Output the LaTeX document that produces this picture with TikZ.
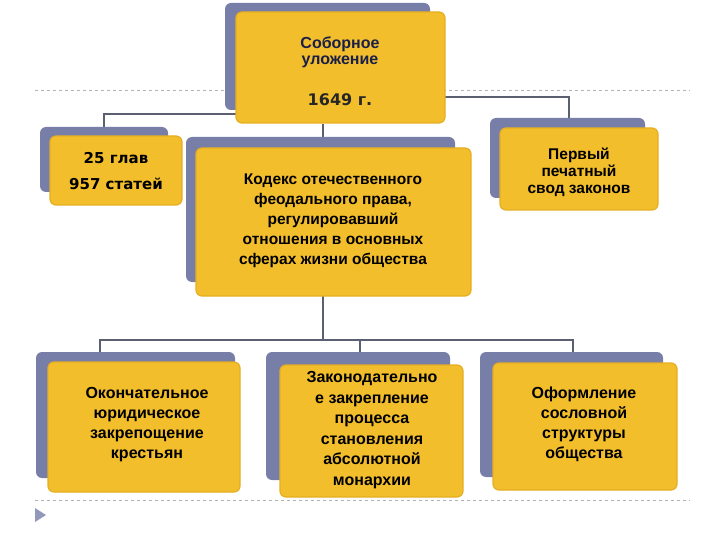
\documentclass[tikz,border=0pt]{standalone}
\usepackage{fontspec}
\setmainfont{Liberation Sans}
\newfontfamily\numfont{DejaVu Sans}
\definecolor{ylw}{HTML}{F2BE2C}
\definecolor{ylwb}{HTML}{E6AE22}
\definecolor{shd}{HTML}{777FA8}
\definecolor{lnc}{HTML}{5A6072}
\definecolor{navy}{HTML}{1A1F4A}
\begin{document}
\begin{tikzpicture}[x=1pt,y=-1pt,
  card/.style={fill=ylw,draw=ylwb,line width=1.2pt,rounded corners=6pt},
  shade/.style={fill=shd,rounded corners=6pt},
  txt/.style={align=center,font=\bfseries\fontsize{16}{18}\selectfont,text=black},
  conn/.style={draw=lnc,line width=1.3pt}]
\useasboundingbox (0,0) rectangle (720,540);
\draw[gray!60,dashed] (35,90) -- (690,90);
\draw[gray!60,dashed] (35,500) -- (690,500);
\fill[shd!80] (35,508) -- (46,515) -- (35,522) -- cycle;
% connectors
\coordinate (j1) at (104,114);
\coordinate (j2) at (569,97);
\coordinate (j3) at (323,340);
\draw[conn] (104,127) -- (104,114) -- (236,114);
\draw[conn] (445,97) -- (569,97) -- (569,118);
\draw[conn] (323,124) -- (323,137);
\draw[conn] (323,296) -- (323,340);
\draw[conn] (100,352) -- (100,340) -- (573,340) -- (573,352);
\draw[conn] (360,340) -- (360,352);
% boxes
\fill[shade] (225,3) rectangle (430,110);
\draw[card] (236,12) rectangle (445,123);
\node[txt,text=navy] (t) at (340,52) {Соборное\\[-2pt]уложение};
\node[font=\numfont\bfseries\fontsize{16}{18}\selectfont,text=black!85] (ty) at (340,100) {1649 г.};
\fill[shade] (40,127) rectangle (168,192);
\draw[card] (50,136) rectangle (182,205);
\node[font=\numfont\bfseries\fontsize{15}{26}\selectfont,align=center] (a) at (116,171) {25 глав\\957 статей};
\fill[shade] (186,137) rectangle (455,282);
\draw[card] (196,148) rectangle (471,296);
\node[txt,font=\bfseries\fontsize{15.5}{20}\selectfont] (b) at (333,221) {Кодекс отечественного\\феодального права,\\регулировавший\\отношения в основных\\сферах жизни общества};
\fill[shade] (490,118) rectangle (645,198);
\draw[card] (500,128) rectangle (658,210);
\node[txt,font=\bfseries\fontsize{15.5}{17}\selectfont] (c) at (579,172) {Первый\\печатный\\свод законов};
\fill[shade] (36,352) rectangle (235,478);
\draw[card] (48,362) rectangle (240,492);
\node[txt,font=\bfseries\fontsize{16}{20}\selectfont] (d) at (147,425) {Окончательное\\юридическое\\закрепощение\\крестьян};
\fill[shade] (266,352) rectangle (450,480);
\draw[card] (280,365) rectangle (463,497);
\node[txt,font=\bfseries\fontsize{16}{20.5}\selectfont] (e) at (372,430) {Законодательно\\е закрепление\\процесса\\становления\\абсолютной\\монархии};
\fill[shade] (480,352) rectangle (663,477);
\draw[card] (493,363) rectangle (677,490);
\node[txt,font=\bfseries\fontsize{16}{20}\selectfont] (f) at (584,424) {Оформление\\сословной\\структуры\\общества};
\end{tikzpicture}
\end{document}
